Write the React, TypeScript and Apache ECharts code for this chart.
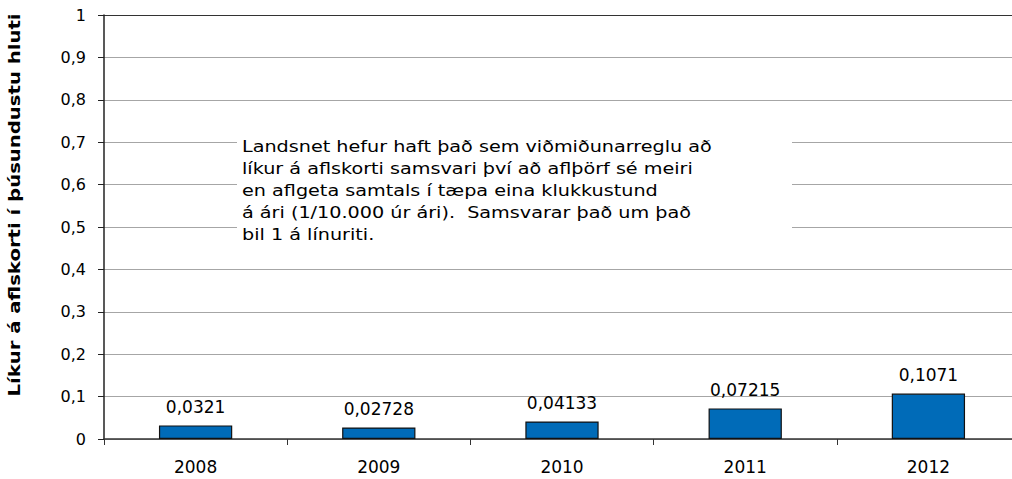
import React, { useEffect, useRef } from "react";
import * as echarts from "echarts";

const years = ["2008", "2009", "2010", "2011", "2012"];
const probabilities = [0.0321, 0.02728, 0.04133, 0.07215, 0.1071];
const yAxisTitle = "Líkur á aflskorti í þúsundustu hluti";
const noteLines = [
  "Landsnet hefur haft það sem viðmiðunarreglu að",
  "líkur á aflskorti samsvari því að aflþörf sé meiri",
  "en aflgeta samtals í tæpa eina klukkustund",
  "á ári (1/10.000 úr ári).  Samsvarar það um það",
  "bil 1 á línuriti.",
];

const FONT = "'DejaVu Sans', 'Liberation Sans', Arial, sans-serif";
const comma = (v: number) => String(v).replace(".", ",");

export default function App() {
  const ref = useRef<HTMLDivElement>(null);
  useEffect(() => {
    if (!ref.current) return;
    const chart = echarts.init(ref.current, undefined, { renderer: "svg" });
    const gridColors = Array(10).fill("#a6a6a6").concat(["#333333"]);
    chart.setOption({
      animation: false,
      backgroundColor: "#ffffff",
      grid: { left: 104, top: 15, right: 0, bottom: 40, containLabel: false },
      xAxis: {
        type: "category",
        data: years,
        axisLine: { show: true, lineStyle: { color: "#333", width: 1.5 } },
        axisTick: { show: true, length: 6, lineStyle: { color: "#333" } },
        axisLabel: { color: "#000", fontSize: 17, fontFamily: FONT, margin: 19 },
      },
      yAxis: {
        type: "value",
        min: 0,
        max: 1,
        interval: 0.1,
        axisLine: { show: true, lineStyle: { color: "#222", width: 1.5 } },
        axisTick: { show: true, length: 6, lineStyle: { color: "#222" } },
        splitLine: { show: true, lineStyle: { color: gridColors, width: 1 } },
        axisLabel: {
          color: "#000",
          fontSize: 16,
          fontFamily: FONT,
          margin: 18,
          formatter: (v: number) => comma(+v.toFixed(1)),
        },
      },
      series: [
        {
          type: "bar",
          data: probabilities,
          barWidth: "40%",
          itemStyle: { color: "#006bb8", borderColor: "#111", borderWidth: 1.2 },
          label: {
            show: true,
            position: "top",
            distance: 10,
            color: "#000",
            fontSize: 17,
            fontFamily: FONT,
            formatter: (p: any) => comma(p.value),
          },
        },
      ],
      graphic: [
        {
          type: "rect",
          shape: { x: 237, y: 128, width: 555, height: 128 },
          style: { fill: "#ffffff" },
          z: 10,
        },
        ...noteLines.map((t, i) => ({
          type: "text",
          x: 242,
          y: 147 + i * 22,
          scaleX: 1.2,
          z: 11,
          style: {
            text: t,
            fill: "#000",
            font: `16px ${FONT}`,
            verticalAlign: "middle",
          },
        })),
        {
          type: "text",
          x: 15,
          y: 205,
          rotation: Math.PI / 2,
          scaleX: 1.31,
          z: 11,
          style: {
            text: yAxisTitle,
            fill: "#000",
            font: `bold 15px ${FONT}`,
            align: "center",
            verticalAlign: "middle",
          },
        },
      ],
    });
    return () => chart.dispose();
  }, []);
  return (
    <div
      ref={ref}
      style={{ position: "fixed", left: 0, top: 0, width: 1020, height: 479 }}
    />
  );
}
